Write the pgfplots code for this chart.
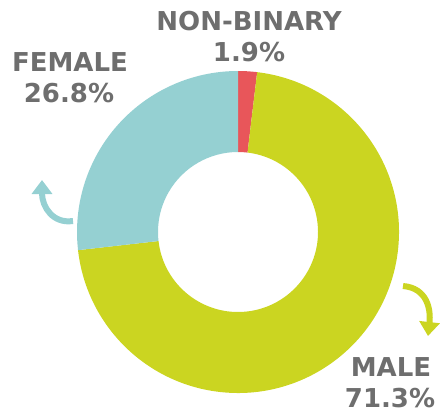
\documentclass[border=0pt]{standalone}
\usepackage{pgfplots}
\pgfplotsset{compat=1.18}
\usepackage{pgfplotstable}
\usetikzlibrary{arrows.meta}
\usepackage{fontspec}
\setmainfont{DejaVu Sans}
\definecolor{nbred}{HTML}{E8565A}
\definecolor{malegreen}{HTML}{CBD521}
\definecolor{femteal}{HTML}{95D0D2}
\definecolor{labgray}{HTML}{6E6E6E}
\pgfplotstableread{
label pct
NonBinary 1.9
Male 71.3
Female 26.8
}\gendertable
\begin{document}
\begin{tikzpicture}
\begin{axis}[
  x=1pt, y=1pt, disabledatascaling,
  xmin=0, xmax=443, ymin=0, ymax=413,
  hide axis, clip=false, scale only axis,
]
\pgfplotstablegetelem{0}{pct}\of\gendertable \edef\pNB{\pgfplotsretval}
\pgfplotstablegetelem{1}{pct}\of\gendertable \edef\pM{\pgfplotsretval}
\pgfplotstablegetelem{2}{pct}\of\gendertable \edef\pF{\pgfplotsretval}
\pgfmathsetmacro\aA{90}
\pgfmathsetmacro\aB{90-3.6*\pNB}
\pgfmathsetmacro\aC{\aB-3.6*\pM}
\pgfmathsetmacro\aD{\aC-3.6*\pF}
\def\cx{238}\def\cy{181}\def\ro{161}\def\ri{80}
\draw[draw=none] (axis cs:0,0) rectangle (axis cs:443,413);
% slices
\fill[nbred] (axis cs:{\cx+\ro*cos(\aA)},{\cy+\ro*sin(\aA)}) arc[start angle=\aA, end angle=\aB, radius=\ro pt]
  -- (axis cs:{\cx+\ri*cos(\aB)},{\cy+\ri*sin(\aB)}) arc[start angle=\aB, end angle=\aA, radius=\ri pt] -- cycle;
\fill[malegreen] (axis cs:{\cx+\ro*cos(\aB)},{\cy+\ro*sin(\aB)}) arc[start angle=\aB, end angle=\aC, radius=\ro pt]
  -- (axis cs:{\cx+\ri*cos(\aC)},{\cy+\ri*sin(\aC)}) arc[start angle=\aC, end angle=\aB, radius=\ri pt] -- cycle;
\fill[femteal] (axis cs:{\cx+\ro*cos(\aC)},{\cy+\ro*sin(\aC)}) arc[start angle=\aC, end angle=\aD, radius=\ro pt]
  -- (axis cs:{\cx+\ri*cos(\aD)},{\cy+\ri*sin(\aD)}) arc[start angle=\aD, end angle=\aC, radius=\ri pt] -- cycle;
% arrows
\draw[femteal, line width=6pt, -{Triangle[width=20pt,length=14pt]}]
  (axis cs:73,192) .. controls (axis cs:53,189) and (axis cs:42,206) .. (axis cs:42,233);
\draw[malegreen, line width=6pt, -{Triangle[width=20pt,length=14pt]}]
  (axis cs:403,127) .. controls (axis cs:427,125) and (axis cs:431,104) .. (axis cs:428,77);
% labels
\begin{scope}[every node/.style={text=labgray, font=\fontsize{26}{31}\selectfont\bfseries, inner sep=0pt, anchor=base}]
\node at (axis cs:249,382) {NON-BINARY};
\node at (axis cs:249,351) {\pNB\%};
\node at (axis cs:70,341) {FEMALE};
\node at (axis cs:69,310) {\pF\%};
\node at (axis cs:391,37) {MALE};
\node at (axis cs:390,6) {\pM\%};
\end{scope}
\end{axis}
\end{tikzpicture}
\end{document}
